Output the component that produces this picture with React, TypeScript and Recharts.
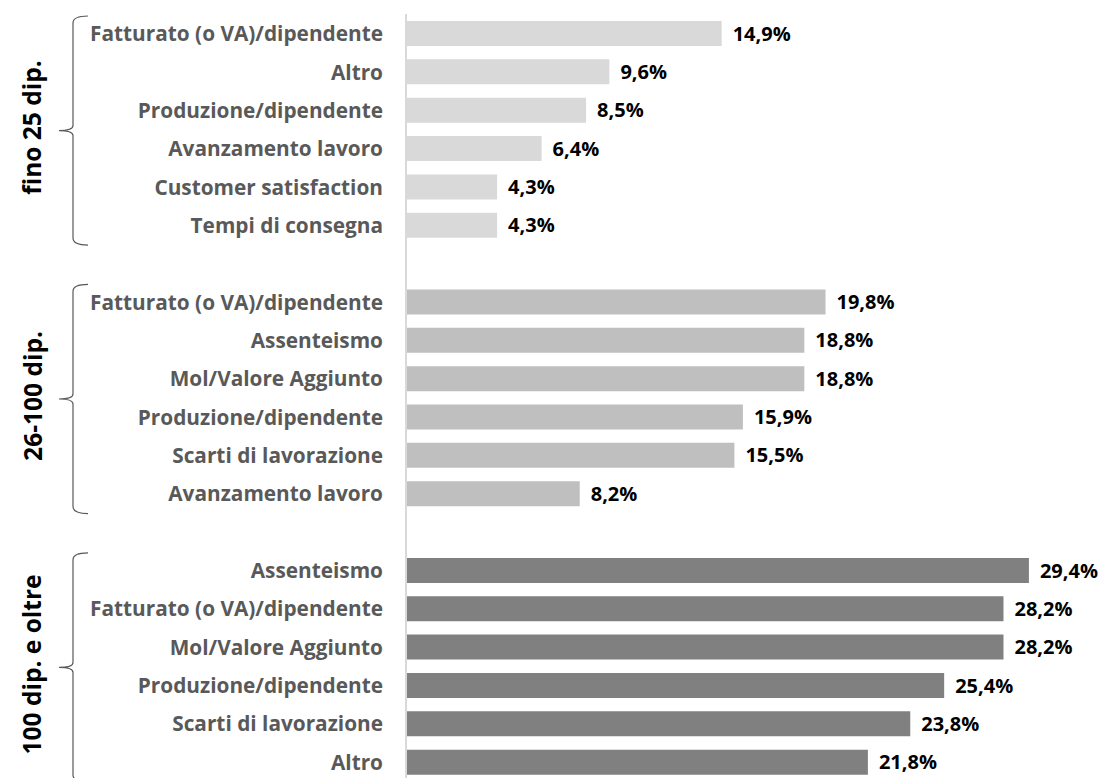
import React from 'react';
import { BarChart, Bar, XAxis, YAxis, Cell, LabelList, ReferenceArea } from 'recharts';

const groupNames = ['fino 25 dip.', '26-100 dip.', '100 dip. e oltre'];

const group1Labels = [
  'Fatturato (o VA)/dipendente',
  'Altro',
  'Produzione/dipendente',
  'Avanzamento lavoro',
  'Customer satisfaction',
  'Tempi di consegna',
];
const group1Values = [14.9, 9.6, 8.5, 6.4, 4.3, 4.3];

const group2Labels = [
  'Fatturato (o VA)/dipendente',
  'Assenteismo',
  'Mol/Valore Aggiunto',
  'Produzione/dipendente',
  'Scarti di lavorazione',
  'Avanzamento lavoro',
];
const group2Values = [19.8, 18.8, 18.8, 15.9, 15.5, 8.2];

const group3Labels = [
  'Assenteismo',
  'Fatturato (o VA)/dipendente',
  'Mol/Valore Aggiunto',
  'Produzione/dipendente',
  'Scarti di lavorazione',
  'Altro',
];
const group3Values = [29.4, 28.2, 28.2, 25.4, 23.8, 21.8];

const groupColors = ['#D9D9D9', '#BFBFBF', '#808080'];

const groups = [
  { labels: group1Labels, values: group1Values },
  { labels: group2Labels, values: group2Values },
  { labels: group3Labels, values: group3Values },
];

type Row = { key: string; label: string; value: number | null; group: number };

const rows: Row[] = [];
groups.forEach((g, gi) => {
  g.labels.forEach((label, i) => {
    rows.push({ key: `g${gi}-${i}`, label, value: g.values[i], group: gi });
  });
  if (gi < groups.length - 1) {
    rows.push({ key: `gap${gi}`, label: '', value: null, group: -1 });
  }
});

const labelByKey: Record<string, string> = {};
rows.forEach((r) => {
  labelByKey[r.key] = r.label;
});

const FONT = '"Open Sans", "Noto Sans", sans-serif';

const CategoryTick = (props: any) => {
  const { y, payload } = props;
  const text = labelByKey[payload.value] || '';
  return (
    <text
      x={383}
      y={y}
      textAnchor="end"
      dominantBaseline="central"
      fill="#595959"
      fontFamily={FONT}
      fontWeight={700}
      fontSize={20.8}
    >
      {text}
    </text>
  );
};

const Brace = (props: any) => {
  const { y, height, name } = props;
  const t = y + 2;
  const b = y + height + 1;
  const m = (t + b) / 2;
  const xl = 73;
  const xt = 59;
  const xh = 88;
  const r = 7;
  const d = `M ${xh} ${t} Q ${xl} ${t} ${xl} ${t + r} L ${xl} ${m - 5} Q ${xl} ${m} ${xt} ${m} Q ${xl} ${m} ${xl} ${m + 5} L ${xl} ${b - r} Q ${xl} ${b} ${xh} ${b}`;
  const ty = m - 3;
  return (
    <g>
      <path d={d} fill="none" stroke="#595959" strokeWidth={1.2} />
      <text
        x={32}
        y={ty}
        transform={`rotate(-90 32 ${ty})`}
        textAnchor="middle"
        dominantBaseline="central"
        fill="#000000"
        fontFamily={FONT}
        fontWeight={700}
        fontSize={24.5}
      >
        {name}
      </text>
    </g>
  );
};

const fmt = (v: any) => (v == null ? '' : `${Number(v).toFixed(1).replace('.', ',')}%`);

export default function App() {
  return (
    <div
      style={{
        position: 'fixed',
        left: 0,
        top: 0,
        width: 1106,
        height: 778,
        overflow: 'hidden',
        background: '#ffffff',
      }}
    >
      <BarChart
        width={1106}
        height={790}
        data={rows}
        layout="vertical"
        margin={{ top: 14, right: 22, bottom: 9, left: 0 }}
      >
        <XAxis type="number" domain={[0, 32]} hide />
        <YAxis
          type="category"
          dataKey="key"
          width={406}
          tick={<CategoryTick />}
          tickLine={false}
          axisLine={{ stroke: '#D9D9D9', strokeWidth: 2 }}
          interval={0}
        />
        {groups.map((g, gi) => (
          <ReferenceArea
            key={`brace${gi}`}
            y1={`g${gi}-0`}
            y2={`g${gi}-${g.labels.length - 1}`}
            ifOverflow="visible"
            shape={<Brace name={groupNames[gi]} />}
          />
        ))}
        <Bar dataKey="value" barSize={25} isAnimationActive={false}>
          {rows.map((r) => (
            <Cell key={r.key} fill={r.group >= 0 ? groupColors[r.group] : 'transparent'} />
          ))}
          <LabelList
            dataKey="value"
            position="right"
            offset={11}
            formatter={fmt}
            fill="#000000"
            style={{ fontFamily: FONT, fontWeight: 700, fontSize: 20, fill: '#000000' }}
          />
        </Bar>
      </BarChart>
    </div>
  );
}
